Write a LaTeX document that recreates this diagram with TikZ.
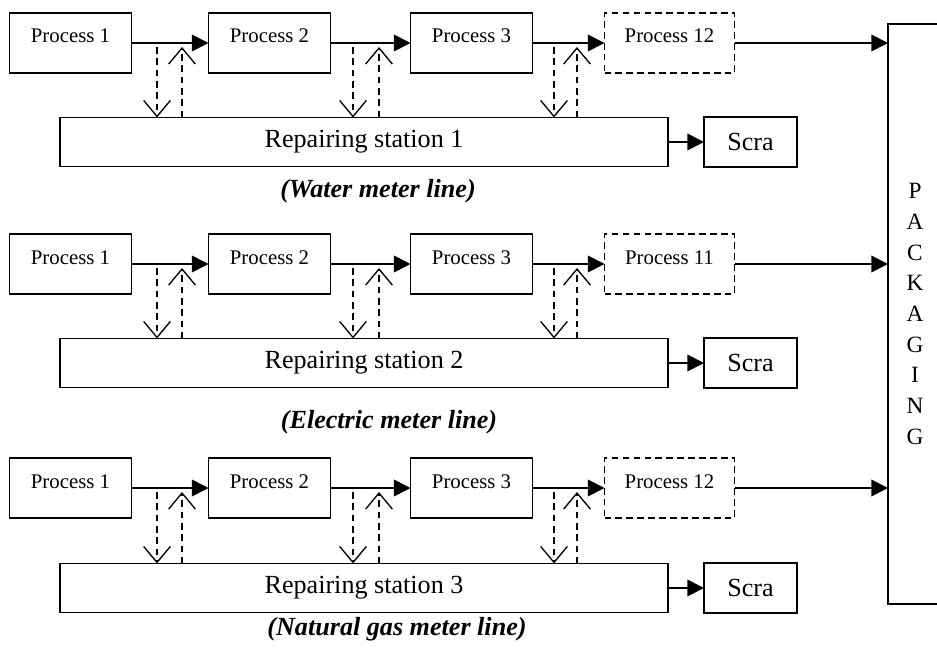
\documentclass[tikz,border=0pt]{standalone}
\usepackage{fontspec}
\setmainfont{Liberation Serif}
\usetikzlibrary{arrows.meta,positioning}

\begin{document}
\begin{tikzpicture}[x=0.75pt,y=-0.75pt,
    box/.style={
    % The shape:
    rectangle,inner sep=0pt,outer sep=0pt,
    % The rest
    draw=black,line width=1.3pt},
    proc/.style={box,minimum width=91.5pt,minimum height=45pt,
      text height=1ex,text depth=1ex,font=\fontsize{15.6}{18}\selectfont},
    lastproc/.style={proc,minimum width=97.5pt,dash pattern=on 5pt off 3.2pt},
    repair/.style={box,minimum width=456pt,minimum height=36.75pt,
      font=\fontsize{19.6}{23}\selectfont},
    scrap/.style={box,minimum width=69.75pt,minimum height=37.5pt,
      font=\fontsize{19.6}{23}\selectfont},
    pack/.style={box,minimum width=40.5pt,minimum height=435pt,align=center,
      font=\fontsize{17.5}{23}\selectfont},
    linename/.style={font=\fontsize{19.6}{23}\selectfont\bfseries\itshape},
    flow/.style={line width=1.3pt,-{Triangle[length=12.5pt,width=12.5pt]}},
    feed/.style={line width=1.2pt,dash pattern=on 5pt off 3.5pt,
      -{Straight Barb[length=12pt,width=20pt,line width=1pt]}}]
  \useasboundingbox (0,0) rectangle (937,652);
  \node (pack) [pack] at (915,314) {P\\A\\C\\K\\A\\G\\I\\N\\G};
  % one line per meter type
  \foreach \r/\y/\ry/\cy/\cx/\n/\txt in {1/43/142/191/378/12/Water meter line,
      2/264/363/422/389/11/Electric meter line,
      3/488/588/629/397/12/Natural gas meter line}{
    \node (p1-\r) [proc] at (70.5,\y) {Process 1};
    \node (p2-\r) [proc,right=57.75pt of p1-\r] {Process 2};
    \node (p3-\r) [proc,right=60pt of p2-\r] {Process 3};
    \node (p4-\r) [lastproc,right=54pt of p3-\r] {Process \n};
    \node (rep-\r) [repair] at (364,\ry) {Repairing station \r};
    \node (scrap-\r) [scrap,right=27pt of rep-\r] {Scra};
    \node (name-\r) [linename] at (\cx,\cy) {(\txt)};
    \draw[flow] (p1-\r) -- (p2-\r);
    \draw[flow] (p2-\r) -- (p3-\r);
    \draw[flow] (p3-\r) -- (p4-\r);
    \draw[flow] (p4-\r) -- (p4-\r -| pack.west);
    \draw[flow] (rep-\r) -- (scrap-\r);
    % to and from the repairing station
    \foreach \dx/\ux in {157/182,353/379,554/577}{
      \coordinate (dn) at (\dx,\y+4);
      \coordinate (up) at (\ux,\y+4);
      \draw[feed] (dn) -- (dn |- rep-\r.north);
      \draw[feed] (up |- rep-\r.north) -- (up);
    }
  }
\end{tikzpicture}
\end{document}
